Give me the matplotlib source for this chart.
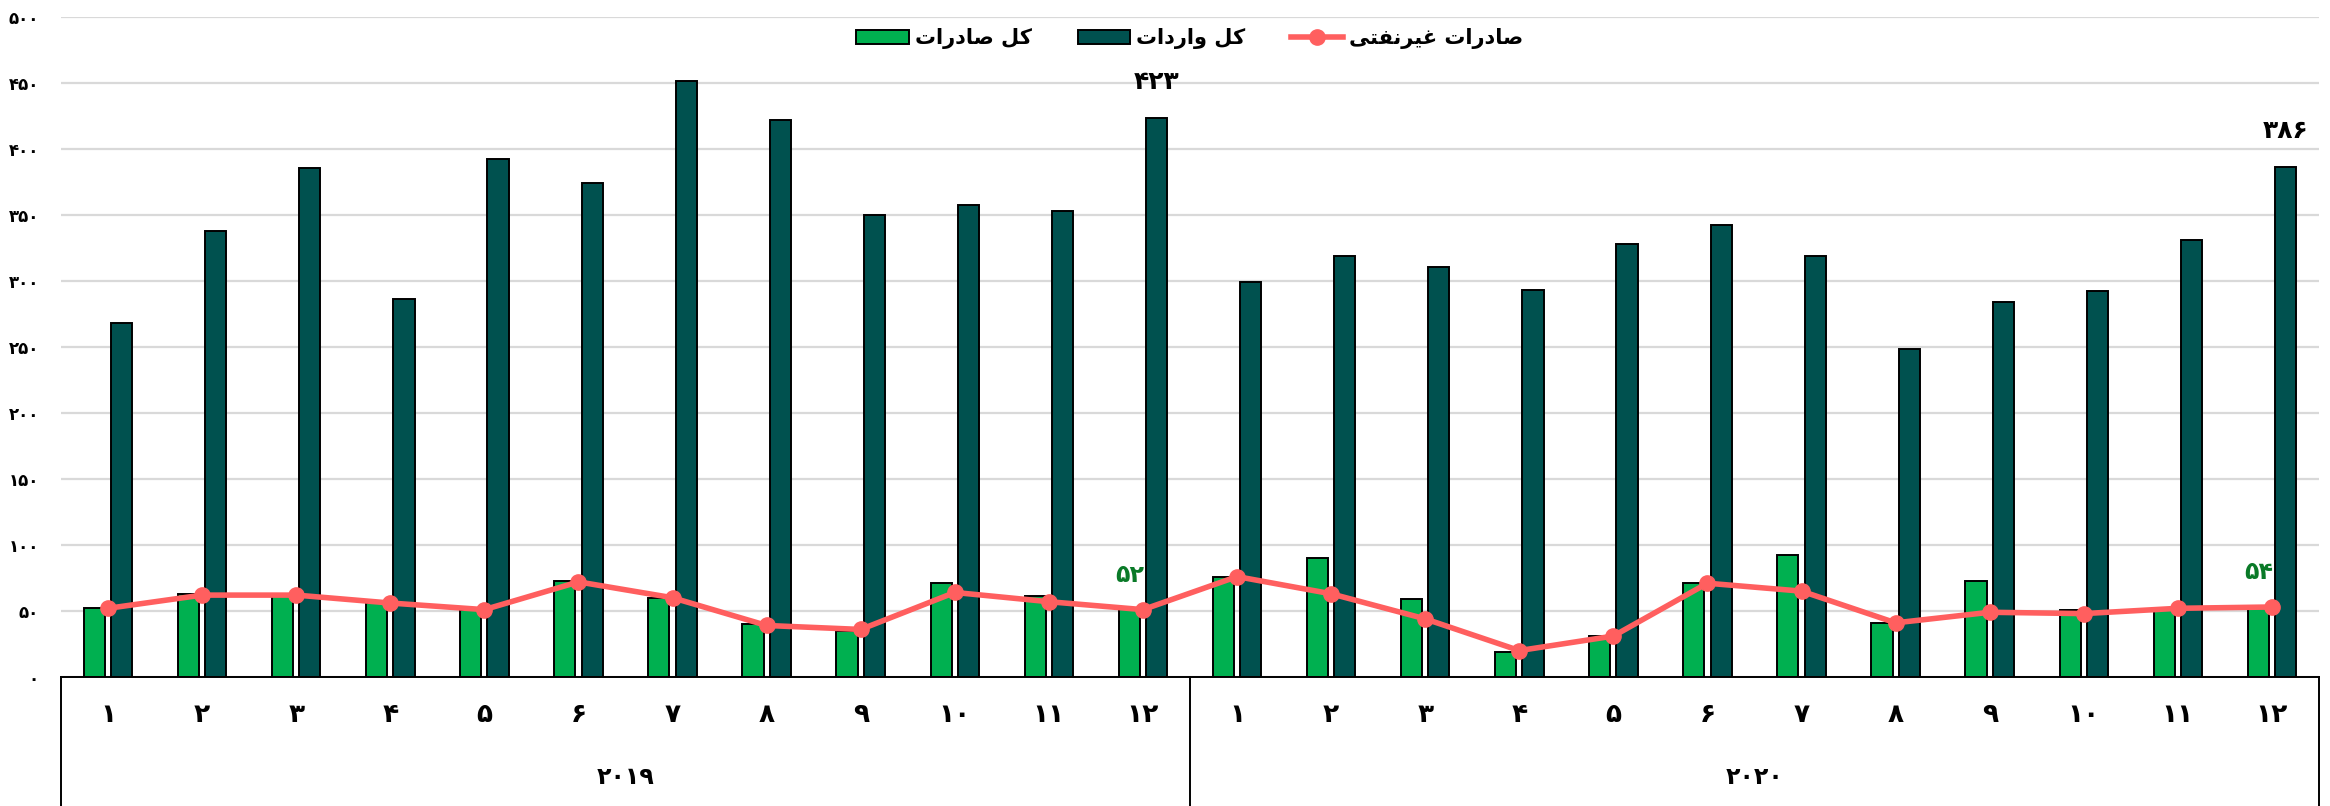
import numpy as np
import matplotlib
matplotlib.use('Agg')
import matplotlib.pyplot as plt
import matplotlib.transforms as mtransforms

plt.rcParams['font.family'] = ['DejaVu Sans']
plt.rcParams['font.weight'] = 'bold'

# data
years = [2019, 2020]
months = list(range(1, 13))
total_exports = [52, 63, 61, 56, 51, 73, 60, 40, 35, 71, 61, 52,
                 76, 90, 59, 19, 31, 71, 92, 41, 73, 51, 52, 54]
total_imports = [268, 338, 385, 286, 392, 374, 451, 422, 350, 357, 353, 423,
                 299, 319, 310, 293, 328, 342, 319, 248, 284, 292, 331, 386]
nonoil_exports = [52, 62, 62, 56, 51, 72, 60, 39, 36, 64, 57, 51,
                  76, 63, 44, 20, 31, 71, 65, 41, 49, 48, 52, 53]
yticks = list(range(0, 501, 50))
label_exports = {11: 52, 23: 54}
label_imports = {11: 423, 23: 386}

lbl_exports = 'کل صادرات'
lbl_imports = 'کل واردات'
lbl_nonoil = 'صادرات غیرنفتی'

GREEN = '#00b050'
TEAL = '#00514f'
RED = '#ff5f5f'

FA_DIGITS = str.maketrans('0123456789', '۰۱۲۳۴۵۶۷۸۹')


def fa(n):
    return str(n).translate(FA_DIGITS)


# tiny arabic shaper: (isolated, final, initial, medial)
FORMS = {
    'ک': ('\ufb8e', '\ufb8f', '\ufb90', '\ufb91'),
    'ل': ('\ufedd', '\ufede', '\ufedf', '\ufee0'),
    'ص': ('\ufeb9', '\ufeba', '\ufebb', '\ufebc'),
    'ا': ('\ufe8d', '\ufe8e', None, None),
    'د': ('\ufea9', '\ufeaa', None, None),
    'ر': ('\ufead', '\ufeae', None, None),
    'و': ('\ufeed', '\ufeee', None, None),
    'ت': ('\ufe95', '\ufe96', '\ufe97', '\ufe98'),
    'غ': ('\ufecd', '\ufece', '\ufecf', '\ufed0'),
    'ی': ('\ufbfc', '\ufbfd', '\ufbfe', '\ufbff'),
    'ن': ('\ufee5', '\ufee6', '\ufee7', '\ufee8'),
    'ف': ('\ufed1', '\ufed2', '\ufed3', '\ufed4'),
}


def shape(s):
    out = []
    for i, c in enumerate(s):
        if c not in FORMS:
            out.append(c)
            continue
        f = FORMS[c]
        prev = s[i - 1] if i > 0 else ''
        nxt = s[i + 1] if i + 1 < len(s) else ''
        jp = prev in FORMS and FORMS[prev][2] is not None
        jn = nxt in FORMS and f[2] is not None
        if jp and jn:
            out.append(f[3])
        elif jp:
            out.append(f[1])
        elif jn:
            out.append(f[2])
        else:
            out.append(f[0])
    return ''.join(out)[::-1]


n = len(years) * len(months)
x = np.arange(n)

fig = plt.figure(figsize=(23.3, 8.06), dpi=100)
ax = fig.add_axes([61 / 2330, 1 - 677 / 806, (2319 - 61) / 2330, (677 - 16.5) / 806])

w = 0.225
off = 0.145
b_exp = ax.bar(x - off, total_exports, w, color=GREEN, edgecolor='black', linewidth=1.4,
               label=shape(lbl_exports), zorder=2)
b_imp = ax.bar(x + off, total_imports, w, color=TEAL, edgecolor='black', linewidth=1.4,
               label=shape(lbl_imports), zorder=2)
l_non, = ax.plot(x, nonoil_exports, color=RED, lw=4.0, marker='o', ms=11,
                 label=shape(lbl_nonoil), zorder=4)

for i, v in label_exports.items():
    ax.annotate(fa(v), (x[i] - off, v), xytext=(0, 24), textcoords='offset points',
                ha='center', va='center', fontsize=17, color='#0a7a28', fontweight='bold')
for i, v in label_imports.items():
    ax.annotate(fa(v), (x[i] + off, v), xytext=(0, 26), textcoords='offset points',
                ha='center', va='center', fontsize=18, color='black', fontweight='bold')

ax.set_xlim(-0.5, n - 0.5)
ax.set_ylim(0, 500)
ax.set_yticks(yticks)
ax.set_yticklabels([fa(t) for t in yticks], fontsize=12, fontweight='bold')
ax.tick_params(axis='y', length=0, pad=16)
ax.set_xticks([])
ax.yaxis.grid(True, color='#d9d9d9', linewidth=1.6)
ax.set_axisbelow(True)
for s in ['top', 'left', 'right']:
    ax.spines[s].set_visible(False)
ax.spines['bottom'].set_linewidth(1.4)

# two-level category axis
trans = mtransforms.blended_transform_factory(ax.transData, ax.transAxes)
for i in range(n):
    ax.text(x[i], -0.058, fa(months[i % 12]), transform=trans, ha='center', va='center',
            fontsize=19, fontweight='bold')
for k, yr in enumerate(years):
    ax.text(k * 12 + 5.5, -0.152, fa(yr), transform=trans, ha='center', va='center',
            fontsize=17, fontweight='bold')
for xv in [-0.5, 11.5, 23.5]:
    ax.plot([xv, xv], [0, -0.21], transform=trans, color='black', lw=1.4, clip_on=False)

ax.legend(handles=[b_exp, b_imp, l_non], loc='upper center', bbox_to_anchor=(0.5, 0.995),
          ncol=3, frameon=False, fontsize=15, handlelength=2.5, columnspacing=2.2,
          handletextpad=0.3, borderaxespad=0)

fig.savefig('out.png', dpi=100)
